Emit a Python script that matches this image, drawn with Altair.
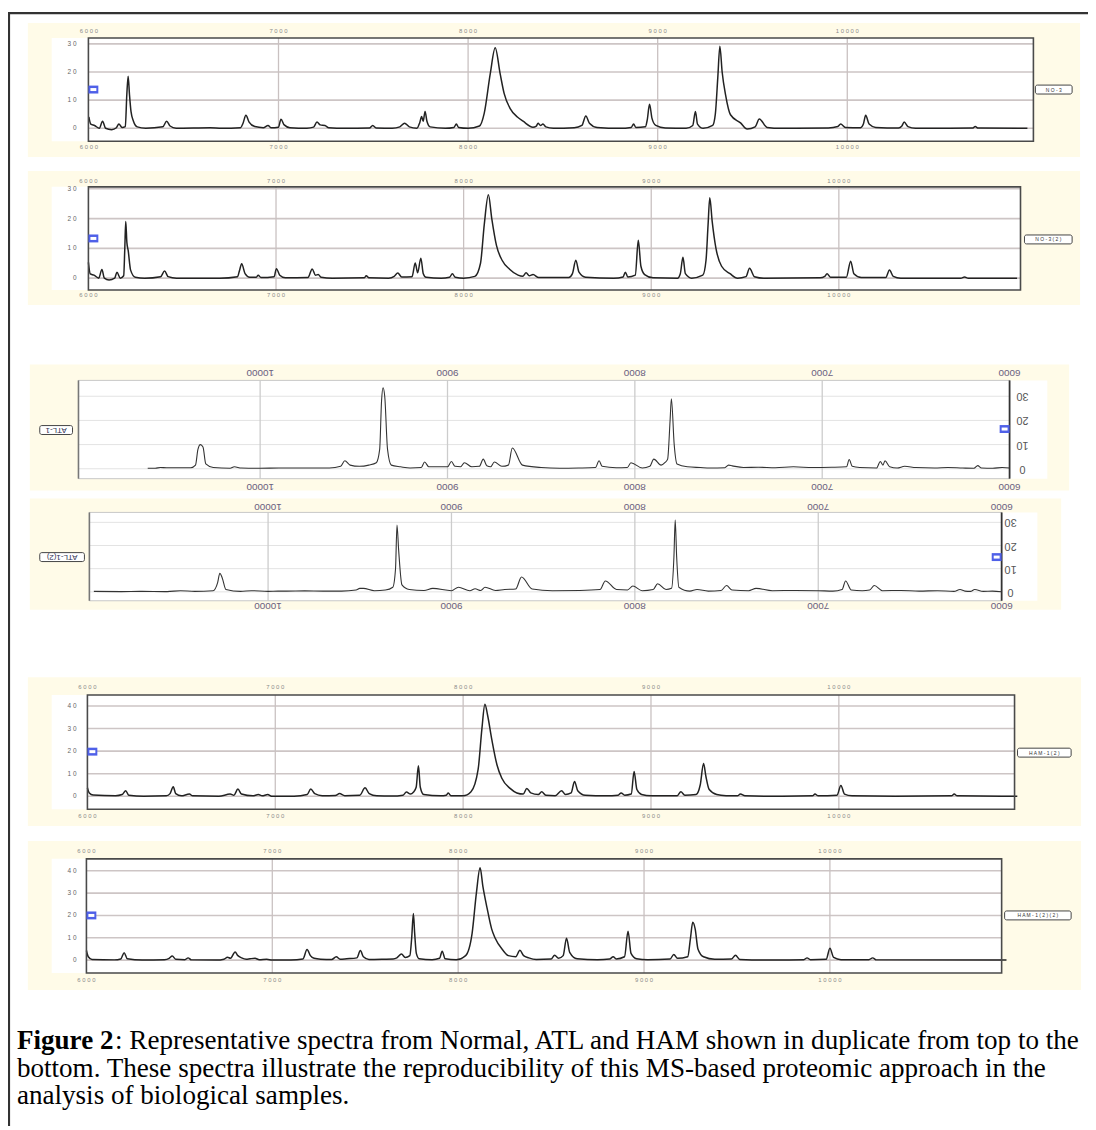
import altair as alt
import pandas as pd

# ---------------- data ----------------
X_TICKS = [6000, 7000, 8000, 9000, 10000]
GRID_MZ = [7000, 8000, 9000, 10000]
Y_TICKS_30 = [0, 10, 20, 30]
Y_TICKS_40 = [0, 10, 20, 30, 40]

NO3 = [(6000, 4.0), (6010, 1.5), (6030, 1.0), (6055, 0.0), (6072, 2.5), (6088, 0.0), (6120, -0.5), (6145, 0.2),
       (6158, 1.5), (6175, 0.3), (6192, 0.6), (6200, 12.0), (6207, 18.5), (6214, 12.0), (6222, 6.0), (6235, 2.5),
       (6255, 0.5), (6300, 0.0), (6390, 0.5), (6410, 2.5), (6428, 0.8), (6460, 0.0), (6640, 0.2), (6700, 0.0),
       (6800, 0.2), (6813, 1.8), (6828, 4.6), (6845, 2.2), (6875, 0.6), (6920, 0.2), (6945, 1.0), (6960, 0.2),
       (7000, 0.4), (7013, 3.2), (7030, 1.2), (7060, 0.2), (7150, 0.0), (7185, 0.4), (7203, 2.2), (7220, 1.2),
       (7245, 1.0), (7265, 0.2), (7350, 0.0), (7480, 0.1), (7497, 1.0), (7515, 0.1), (7600, 0.0), (7640, 0.5),
       (7665, 1.8), (7690, 0.5), (7730, 0.0), (7745, 2.0), (7755, 4.2), (7763, 2.5), (7773, 6.0), (7783, 2.5),
       (7800, 0.5), (7880, 0.0), (7925, 0.3), (7938, 1.5), (7950, 0.3), (8000, 0.0), (8060, 0.8), (8085, 5.3),
       (8117, 19.4), (8143, 28.6), (8169, 19.4), (8190, 12.4), (8222, 7.0), (8260, 4.0), (8290, 2.5), (8342, 0.4),
       (8360, 0.8), (8369, 1.8), (8382, 1.0), (8395, 1.5), (8410, 0.5), (8450, 0.0), (8560, 0.2), (8600, 1.0),
       (8621, 4.4), (8640, 1.8), (8680, 0.3), (8800, 0.0), (8860, 0.3), (8873, 1.5), (8885, 0.3), (8935, 0.5),
       (8945, 3.0), (8957, 8.5), (8970, 3.5), (8990, 1.0), (9040, 0.1), (9150, 0.0), (9185, 1.0), (9199, 6.0),
       (9210, 1.5), (9240, 0.0), (9290, 1.0), (9304, 5.0), (9317, 18.0), (9328, 29.2), (9340, 20.0), (9358, 11.9),
       (9384, 4.8), (9437, 1.9), (9472, -0.3), (9514, 0.5), (9536, 3.3), (9577, 0.3), (9650, 0.0), (9900, 0.1),
       (9950, 0.6), (9965, 1.5), (9990, 0.3), (10070, 0.2), (10085, 1.5), (10097, 4.6), (10115, 1.5), (10150, 0.3),
       (10270, 0.1), (10288, 0.8), (10300, 2.2), (10320, 0.6), (10360, 0.0), (10500, 0.0), (10660, 0.1),
       (10675, 0.6), (10690, 0.1), (10950, 0.0)]

NO3_2 = [(6000, 5.3), (6010, 1.4), (6030, 1.0), (6055, 0.0), (6072, 2.9), (6085, 0.0), (6110, -0.6), (6140, 0.0),
         (6152, 2.0), (6170, 0.0), (6188, 0.8), (6194, 10.0), (6199, 19.0), (6205, 12.0), (6212, 9.3), (6225, 2.7),
         (6250, 0.3), (6300, 0.0), (6385, 0.5), (6406, 2.4), (6425, 0.5), (6470, 0.0), (6700, 0.0), (6795, 0.5),
         (6805, 2.5), (6817, 4.8), (6835, 1.5), (6860, 0.3), (6895, 0.3), (6905, 1.0), (6920, 0.2), (6990, 0.5),
         (7002, 3.2), (7020, 1.0), (7050, 0.1), (7170, 0.2), (7193, 3.1), (7210, 1.0), (7225, 1.2), (7240, 0.3),
         (7300, 0.0), (7470, 0.1), (7481, 0.8), (7495, 0.1), (7600, 0.0), (7630, 0.6), (7649, 1.7), (7670, 0.4),
         (7725, 0.5), (7742, 5.1), (7755, 1.8), (7772, 6.7), (7785, 1.5), (7800, 0.3), (7880, 0.0), (7925, 0.3),
         (7940, 1.5), (7955, 0.3), (8000, 0.0), (8060, 0.6), (8090, 5.0), (8110, 18.0), (8132, 28.0), (8150, 20.0),
         (8175, 11.0), (8205, 6.0), (8245, 3.0), (8290, 1.0), (8315, 0.6), (8333, 1.8), (8350, 0.8), (8370, 1.2),
         (8400, 0.2), (8560, 0.2), (8580, 1.5), (8598, 6.0), (8615, 2.0), (8650, 0.3), (8800, 0.0), (8850, 0.4),
         (8862, 2.0), (8875, 0.4), (8915, 1.0), (8931, 12.7), (8945, 4.0), (8965, 1.2), (9010, 0.1), (9140, 0.0),
         (9155, 1.5), (9169, 7.0), (9182, 1.5), (9215, 0.0), (9275, 1.0), (9292, 6.0), (9303, 18.0), (9312, 27.0),
         (9325, 19.0), (9345, 10.0), (9375, 4.0), (9420, 1.5), (9460, 0.0), (9505, 0.5), (9524, 3.3), (9550, 0.5),
         (9600, 0.0), (9900, 0.1), (9925, 0.6), (9937, 1.5), (9955, 0.3), (10040, 0.3), (10063, 5.7), (10080, 1.5),
         (10120, 0.2), (10250, 0.2), (10270, 2.7), (10290, 0.6), (10330, 0.0), (10650, 0.0), (10670, 0.4),
         (10690, 0.0), (10950, 0.0)]

ATL1 = [(6000, 0.3), (6040, 0.5), (6090, 0.2), (6150, 0.3), (6170, 1.3), (6190, 0.2), (6250, 0.3), (6330, 0.5),
        (6400, 0.3), (6500, 0.5), (6560, 1.0), (6600, 0.3), (6640, 0.8), (6665, 3.3), (6676, 1.5), (6690, 3.0),
        (6710, 0.3), (6800, 0.5), (6840, 1.0), (6856, 3.8), (6870, 0.8), (6950, 0.6), (7050, 0.5), (7154, 0.8),
        (7250, 0.4), (7340, 0.6), (7420, 0.5), (7480, 1.2), (7500, 1.5), (7520, 0.4), (7600, 0.3), (7650, 0.5),
        (7720, 0.8), (7775, 2.0), (7790, 10.0), (7805, 29.0), (7812, 20.0), (7825, 4.0), (7840, 2.5), (7860, 1.5),
        (7899, 4.0), (7920, 1.0), (7960, 0.3), (8021, 2.5), (8040, 0.5), (8100, 0.4), (8175, 1.0), (8191, 3.3),
        (8210, 0.5), (8300, 0.3), (8400, 0.2), (8500, 0.5), (8600, 1.5), (8654, 8.6), (8675, 1.5), (8710, 1.0),
        (8750, 2.8), (8770, 0.8), (8790, 1.2), (8809, 4.0), (8830, 1.0), (8870, 0.8), (8910, 2.5), (8930, 0.8),
        (8960, 1.0), (8979, 3.0), (9000, 0.8), (9060, 0.8), (9100, 0.8), (9122, 2.8), (9140, 0.5), (9200, 0.3),
        (9250, 0.8), (9300, 1.5), (9320, 8.0), (9335, 30.0), (9344, 33.5), (9352, 28.0), (9362, 8.0), (9380, 2.5),
        (9420, 1.5), (9470, 1.0), (9520, 1.5), (9548, 3.3), (9570, 1.0), (9630, 0.3), (9700, 0.3), (9800, 0.3),
        (9900, 0.3), (10000, 0.2), (10100, 0.3), (10138, 0.8), (10160, 0.2), (10250, 0.5), (10290, 2.0),
        (10305, 9.0), (10319, 10.0), (10332, 8.0), (10345, 1.5), (10370, 0.4), (10500, 0.4), (10532, 0.5),
        (10560, 0.2), (10600, 0.2)]

ATL1_2 = [(6000, 0.0), (6050, 0.3), (6100, 0.2), (6147, 1.0), (6170, 0.2), (6200, 0.3), (6227, 1.0), (6260, 0.2),
          (6350, 0.5), (6450, 0.3), (6550, 0.6), (6650, 0.5), (6694, 2.7), (6720, 0.8), (6760, 0.5), (6820, 0.8),
          (6851, 4.7), (6870, 1.0), (6920, 0.3), (7000, 0.5), (7124, 0.6), (7250, 0.5), (7339, 1.5), (7380, 0.5),
          (7470, 0.8), (7500, 2.7), (7530, 0.6), (7600, 0.3), (7661, 1.0), (7700, 0.3), (7760, 2.0), (7772, 15.0),
          (7780, 31.0), (7787, 15.0), (7800, 1.5), (7830, 1.0), (7876, 3.5), (7900, 1.0), (7960, 0.5), (8011, 2.5),
          (8040, 0.8), (8100, 1.0), (8161, 4.7), (8190, 1.0), (8300, 0.6), (8450, 0.5), (8560, 1.2), (8618, 6.4),
          (8650, 1.2), (8710, 1.0), (8760, 0.6), (8817, 2.0), (8840, 0.6), (8871, 1.3), (8900, 0.5), (8962, 2.0),
          (9000, 0.5), (9102, 1.5), (9150, 0.6), (9230, 1.0), (9270, 3.0), (9288, 18.0), (9297, 28.8), (9305, 10.0),
          (9320, 2.0), (9360, 0.8), (9420, 0.5), (9480, 1.5), (9500, 1.5), (9520, 0.8), (9600, 0.3), (9700, 0.3),
          (9800, 0.4), (9900, 0.3), (9946, 0.3), (10000, 0.2), (10091, 0.5), (10150, 0.2), (10230, 1.0),
          (10250, 6.0), (10263, 8.0), (10275, 4.0), (10300, 0.5), (10400, 0.2), (10478, 0.5), (10550, 0.1),
          (10700, 0.2), (10800, 0.1), (10950, 0.2)]

HAM1_2 = [(6000, 3.8), (6010, 1.5), (6030, 0.6), (6150, 0.3), (6185, 0.8), (6204, 2.5), (6220, 0.5), (6300, 0.0),
          (6420, 0.2), (6440, 1.2), (6457, 4.2), (6470, 1.2), (6500, 0.2), (6543, 1.0), (6560, 0.2), (6700, 0.0),
          (6760, 1.0), (6780, 0.5), (6801, 3.2), (6820, 1.0), (6880, 0.2), (6910, 0.8), (6930, 0.2), (6960, 0.8),
          (6980, 0.0), (7100, 0.0), (7170, 0.8), (7189, 3.2), (7210, 1.2), (7250, 0.3), (7320, 0.4), (7342, 1.2),
          (7370, 0.3), (7450, 0.5), (7478, 3.8), (7500, 1.2), (7540, 0.2), (7620, 0.1), (7680, 0.5), (7698, 1.9),
          (7720, 1.0), (7735, 1.8), (7750, 4.0), (7762, 13.5), (7772, 4.0), (7790, 0.8), (7880, 0.2), (7910, 0.5),
          (7921, 1.5), (7935, 0.3), (8000, 0.2), (8042, 2.0), (8080, 12.0), (8100, 30.0), (8116, 40.8), (8130, 36.0),
          (8153, 25.0), (8180, 14.0), (8206, 8.0), (8250, 3.5), (8286, 1.5), (8320, 1.0), (8339, 3.5), (8360, 1.5),
          (8400, 0.8), (8418, 2.0), (8440, 0.5), (8490, 0.3), (8524, 2.5), (8545, 0.8), (8575, 1.5), (8593, 6.6),
          (8610, 2.5), (8650, 0.5), (8760, 0.2), (8825, 0.5), (8841, 1.5), (8860, 0.5), (8895, 1.0), (8910, 11.0),
          (8925, 3.0), (8950, 0.8), (9000, 0.2), (9140, 0.3), (9159, 2.0), (9180, 0.5), (9240, 0.8), (9262, 5.0),
          (9280, 14.5), (9292, 9.0), (9310, 3.0), (9350, 0.8), (9400, 0.3), (9460, 0.2), (9476, 1.0), (9500, 0.2),
          (9700, 0.0), (9860, 0.2), (9873, 1.0), (9890, 0.2), (9990, 0.5), (10011, 4.8), (10030, 1.0), (10070, 0.2),
          (10300, 0.0), (10600, 0.2), (10614, 1.0), (10630, 0.2), (10950, 0.0)]

HAM1_2_2 = [(6000, 4.3), (6010, 1.5), (6030, 0.3), (6150, 0.1), (6185, 0.5), (6203, 3.3), (6220, 0.6), (6300, 0.0),
            (6420, 0.2), (6445, 0.8), (6462, 1.8), (6480, 0.4), (6530, 0.2), (6547, 1.0), (6565, 0.1), (6700, 0.0),
            (6740, 0.4), (6759, 1.3), (6775, 0.8), (6800, 3.6), (6815, 2.0), (6835, 1.0), (6860, 0.4), (6880, 0.6),
            (6907, 0.8), (6930, 0.2), (6970, 0.4), (7000, 0.0), (7100, 0.0), (7165, 0.5), (7187, 4.7), (7205, 2.0),
            (7225, 0.8), (7260, 0.4), (7320, 0.3), (7344, 1.5), (7365, 0.4), (7400, 0.6), (7455, 1.0), (7474, 4.3),
            (7490, 1.5), (7520, 0.3), (7600, 0.4), (7650, 0.5), (7670, 1.0), (7695, 2.7), (7715, 1.2), (7740, 2.0),
            (7750, 10.0), (7759, 20.9), (7766, 12.0), (7775, 3.0), (7790, 0.6), (7860, 0.2), (7900, 0.8),
            (7914, 4.0), (7930, 0.6), (7990, 0.2), (8040, 2.0), (8075, 12.0), (8098, 30.0), (8118, 41.3),
            (8133, 33.0), (8155, 23.5), (8180, 14.0), (8198, 10.0), (8240, 4.5), (8270, 2.0), (8310, 1.5),
            (8332, 4.4), (8352, 2.0), (8380, 1.0), (8420, 0.3), (8500, 0.5), (8519, 2.2), (8540, 0.8), (8565, 2.0),
            (8583, 9.8), (8600, 3.5), (8640, 0.6), (8750, 0.2), (8815, 0.5), (8834, 1.5), (8850, 0.5), (8895, 1.5),
            (8914, 12.9), (8930, 3.0), (8960, 0.6), (9020, 0.2), (9140, 0.5), (9160, 2.5), (9180, 0.8), (9235, 1.5),
            (9250, 10.0), (9262, 16.9), (9275, 14.0), (9290, 5.0), (9320, 1.5), (9380, 0.4), (9470, 0.5),
            (9492, 2.2), (9515, 0.3), (9700, 0.0), (9860, 0.2), (9877, 1.0), (9895, 0.2), (9980, 0.4), (10000, 5.3),
            (10020, 1.2), (10060, 0.2), (10210, 0.2), (10230, 1.0), (10250, 0.1), (10950, 0.0)]

LEGEND_LABELS = ["N  O  -  3", "N  O  -  3  (  2  )", "ATL-1", "ATL-1(2)",
                 "H  A  M  -  1  (  2  )", "H  A  M  -  1  (  2  )  (  2  )"]

CAPTION_BOLD = "Figure 2"
CAPTION_LINES = [": Representative spectra from Normal, ATL and HAM shown in duplicate from top to the",
                 "bottom. These spectra illustrate the reproducibility of this MS-based proteomic approach in the",
                 "analysis of biological samples."]

# ---------------- layout (page pixel geometry) ----------------
OFF = 8
W, H = 1088, 1122
YELLOW = "#fffbe8"


def P(v):
    return v - OFF


GEO = [
    dict(spec=NO3, bg=(28, 1088, 19, 154), lab=(52, 89, 34, 138), frame=(89, 1041, 34, 138), x6=89.5, x10=853.5,
         y0=125, yt=40, ytop=30, xl=(27, 144), ylx=77, marker=(94, 86), leg=(1043, 1080, 86), flip=False),
    dict(spec=NO3_2, bg=(28, 1088, 168, 303), lab=(52, 89, 184, 288), frame=(89, 1028, 184, 288), x6=89, x10=845,
         y0=276, yt=186, ytop=30, xl=(178, 293), ylx=77, marker=(94, 236), leg=(1032, 1080, 237), flip=False),
    dict(spec=ATL1, bg=(30, 1077, 363, 490), lab=(1017, 1055, 379, 478), frame=(79, 1017, 379, 478), x6=1017,
         x10=262, y0=468, yt=395, ytop=30, xl=(372, 486), ylx=1030, marker=(1012, 428), leg=(40, 73, 429), flip=True),
    dict(spec=ATL1_2, bg=(30, 1069, 498, 610), lab=(1009, 1045, 512, 601), frame=(90, 1009, 512, 601), x6=1009,
         x10=270, y0=592, yt=522, ytop=30, xl=(507, 606), ylx=1018, marker=(1004, 557), leg=(40, 85, 557), flip=True),
    dict(spec=HAM1_2, bg=(28, 1089, 678, 828), lab=(52, 88, 696, 811), frame=(88, 1022, 696, 811), x6=88, x10=845,
         y0=798, yt=707, ytop=40, xl=(688, 818), ylx=77, marker=(93, 753), leg=(1025, 1079, 754), flip=False),
    dict(spec=HAM1_2_2, bg=(28, 1089, 843, 993), lab=(52, 87, 861, 976), frame=(87, 1009, 861, 976), x6=87,
         x10=836, y0=963, yt=873, ytop=40, xl=(853, 983), ylx=77, marker=(92, 918), leg=(1012, 1079, 918), flip=False),
]

FONT = "Liberation Sans"


def spaced(v):
    return "  ".join(str(v))


def ident_x(f):
    return alt.X(f, type="quantitative", scale=None, axis=None)


def ident_y(f):
    return alt.Y(f, type="quantitative", scale=None, axis=None)


layers = []

# backgrounds
bg_rows = []
for g in GEO:
    for key, col in (("bg", YELLOW), ("lab", "white"), ("frame", "white")):
        a, b, c, d = g[key]
        bg_rows.append(dict(x=P(a), x2=P(b), y=P(c), y2=P(d), fill=col))
layers.append(
    alt.Chart(pd.DataFrame(bg_rows)).mark_rect().encode(
        x=ident_x("x"), x2=alt.X2("x2"), y=ident_y("y"), y2=alt.Y2("y2"),
        fill=alt.Fill("fill:N", scale=None, legend=None))
)

frame_rows = []
edge_rows = []
for gi, g in enumerate(GEO):
    flip = g["flip"]
    fx0, fx1, fy0, fy1 = g["frame"]
    xs = alt.Scale(domain=[6000, 10000], range=[P(g["x6"]), P(g["x10"])], nice=False, zero=False)
    ys = alt.Scale(domain=[0, g["ytop"]], range=[P(g["y0"]), P(g["yt"])], nice=False, zero=False)
    yticks = Y_TICKS_40 if g["ytop"] == 40 else Y_TICKS_30
    hcol, vcol = ("#e3e3e3", "#cccccc") if flip else ("#cdc5c5", "#c9c1c1")
    hw = 1 if flip else 1.6
    layers.append(
        alt.Chart(pd.DataFrame({"v": yticks})).mark_rule(color=hcol, strokeWidth=hw).encode(
            y=alt.Y("v:Q", scale=ys, axis=None), x=alt.value(P(fx0)), x2=alt.value(P(fx1)))
    )
    layers.append(
        alt.Chart(pd.DataFrame({"v": GRID_MZ})).mark_rule(color=vcol, strokeWidth=1.3).encode(
            x=alt.X("v:Q", scale=xs, axis=None), y=alt.value(P(fy0)), y2=alt.value(P(fy1)))
    )
    # spectrum
    df = pd.DataFrame(g["spec"], columns=["mz", "inten"])
    layers.append(
        alt.Chart(df).mark_line(color="#333333" if flip else "#222222", interpolate="monotone",
                                strokeWidth=1.1 if flip else 1.5).encode(
            x=alt.X("mz:Q", scale=xs, axis=None), y=alt.Y("inten:Q", scale=ys, axis=None),
            order="mz:Q")
    )
    # x labels (top and bottom)
    rows = []
    for t in X_TICKS:
        for yy in g["xl"]:
            rows.append(dict(v=t, label=(str(t) if flip else spaced(t)), ypix=P(yy)))
    if flip:
        xt = alt.Chart(pd.DataFrame(rows)).mark_text(font=FONT, fontSize=10, color="#6a6080", angle=180,
                                                     align="center", baseline="middle")
    else:
        xt = alt.Chart(pd.DataFrame(rows)).mark_text(font=FONT, fontSize=6, color="#8a8a8a",
                                                     align="center", baseline="middle")
    layers.append(xt.encode(x=alt.X("v:Q", scale=xs, axis=None), y=ident_y("ypix"), text="label:N"))
    # y labels
    ydf = pd.DataFrame({"v": yticks, "label": [str(v) if flip else spaced(v) for v in yticks]})
    if flip:
        yl = alt.Chart(ydf).mark_text(font=FONT, fontSize=11, color="#555555", angle=180,
                                      align="center", baseline="middle")
    else:
        yl = alt.Chart(ydf).mark_text(font=FONT, fontSize=6.5, color="#666666",
                                      align="right", baseline="middle")
    layers.append(yl.encode(x=alt.value(P(g["ylx"])), y=alt.Y("v:Q", scale=ys, axis=None), text="label:N"))
    # frames
    if flip:
        frame_rows.append(dict(x=P(fx0), x2=P(fx1), y=P(fy0), y2=P(fy1), stroke="#c8c8c8", sw=1))
        edge_rows.append(dict(x=P(fx0), x2=P(fx0), y=P(fy0), y2=P(fy1), stroke="#777777", sw=1.6))
        edge_rows.append(dict(x=P(fx1), x2=P(fx1), y=P(fy0), y2=P(fy1), stroke="#333333", sw=1.8))
    else:
        frame_rows.append(dict(x=P(fx0), x2=P(fx1), y=P(fy0), y2=P(fy1), stroke="#4a4a4a", sw=1.6))

layers.append(
    alt.Chart(pd.DataFrame(frame_rows)).mark_rect(fillOpacity=0).encode(
        x=ident_x("x"), x2=alt.X2("x2"), y=ident_y("y"), y2=alt.Y2("y2"),
        stroke=alt.Stroke("stroke:N", scale=None, legend=None),
        strokeWidth=alt.StrokeWidth("sw:Q", scale=None, legend=None))
)
layers.append(
    alt.Chart(pd.DataFrame(edge_rows)).mark_rule().encode(
        x=ident_x("x"), x2=alt.X2("x2"), y=ident_y("y"), y2=alt.Y2("y2"),
        color=alt.Color("stroke:N", scale=None, legend=None),
        strokeWidth=alt.StrokeWidth("sw:Q", scale=None, legend=None))
)

# blue markers
mk_rows = []
for g in GEO:
    mx, my = g["marker"]
    mk_rows.append(dict(x=P(mx - 5), x2=P(mx + 5), y=P(my - 4), y2=P(my + 4), fill="#4f60e8"))
    mk_rows.append(dict(x=P(mx - 3), x2=P(mx + 3), y=P(my - 1.5), y2=P(my + 1.5), fill="#ffffff"))
layers.append(
    alt.Chart(pd.DataFrame(mk_rows)).mark_rect().encode(
        x=ident_x("x"), x2=alt.X2("x2"), y=ident_y("y"), y2=alt.Y2("y2"),
        fill=alt.Fill("fill:N", scale=None, legend=None))
)

# legend boxes
lg_rows = []
for g, lab in zip(GEO, LEGEND_LABELS):
    a, b, cy = g["leg"]
    lg_rows.append(dict(x=P(a), x2=P(b), y=P(cy - 4.5), y2=P(cy + 4.5), xc=P((a + b) / 2), yc=P(cy),
                        label=lab, flip=g["flip"]))
lgdf = pd.DataFrame(lg_rows)
layers.append(
    alt.Chart(lgdf).mark_rect(cornerRadius=2, fill="white", stroke="#444444", strokeWidth=1).encode(
        x=ident_x("x"), x2=alt.X2("x2"), y=ident_y("y"), y2=alt.Y2("y2"))
)
layers.append(
    alt.Chart(lgdf[~lgdf["flip"]]).mark_text(font=FONT, fontSize=5, color="#333333", baseline="middle").encode(
        x=ident_x("xc"), y=ident_y("yc"), text="label:N")
)
layers.append(
    alt.Chart(lgdf[lgdf["flip"]]).mark_text(font=FONT, fontSize=8, color="#333355", angle=180,
                                            baseline="middle").encode(
        x=ident_x("xc"), y=ident_y("yc"), text="label:N")
)

# caption
CAP_SIZE = 27.3
CAP_LEAD = 27.5
cap_x0 = 17
bold_w = 3.583 * CAP_SIZE + 1
cap_rows = [dict(x=P(cap_x0 + (bold_w if i == 0 else 0)), y=P(1053 + CAP_LEAD * i), text=t)
            for i, t in enumerate(CAPTION_LINES)]
layers.append(
    alt.Chart(pd.DataFrame([dict(x=P(cap_x0), y=P(1053), text=CAPTION_BOLD)])).mark_text(
        font="Liberation Serif", fontSize=CAP_SIZE, fontWeight="bold", color="black",
        align="left", baseline="alphabetic").encode(x=ident_x("x"), y=ident_y("y"), text="text:N")
)
layers.append(
    alt.Chart(pd.DataFrame(cap_rows)).mark_text(
        font="Liberation Serif", fontSize=CAP_SIZE, color="black",
        align="left", baseline="alphabetic").encode(x=ident_x("x"), y=ident_y("y"), text="text:N")
)

# outer border (top and left)
bd = pd.DataFrame([dict(x=0, x2=W, y=1, y2=1), dict(x=1, x2=1, y=0, y2=H)])
layers.append(
    alt.Chart(bd).mark_rule(color="#333333", strokeWidth=2.2).encode(
        x=ident_x("x"), x2=alt.X2("x2"), y=ident_y("y"), y2=alt.Y2("y2"))
)

chart = alt.layer(*layers).resolve_scale(x="independent", y="independent").properties(
    width=W, height=H, padding=0, autosize=alt.AutoSizeParams(type="none"), background="white"
).configure_view(stroke=None)

chart.save("out.html", embed_options={"renderer": "svg", "actions": False})
